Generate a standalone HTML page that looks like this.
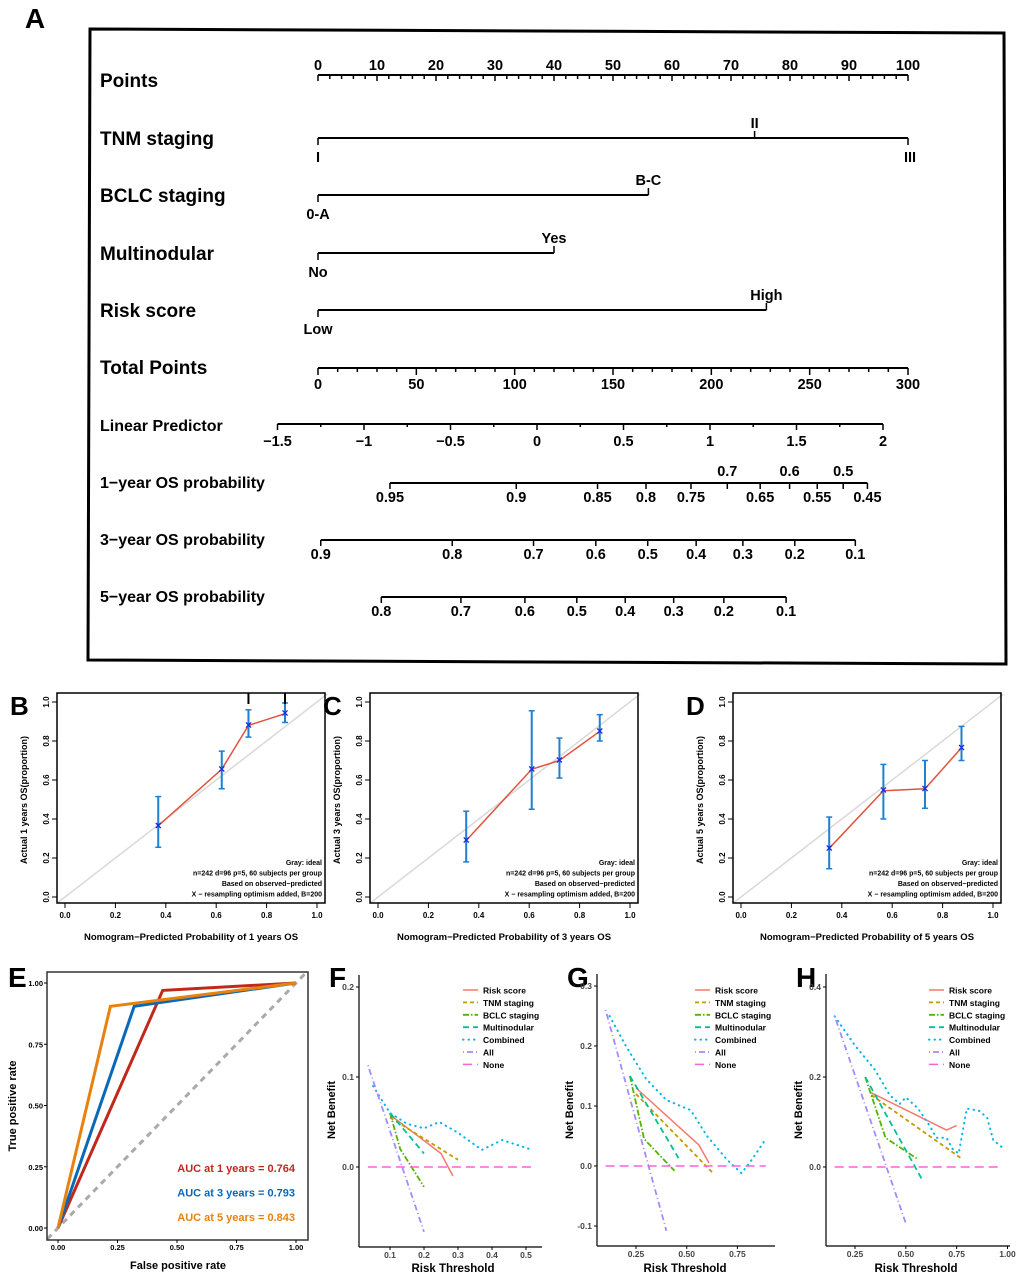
<!DOCTYPE html>
<html><head><meta charset="utf-8"><title>Nomogram figure</title>
<style>
html,body{margin:0;padding:0;background:#fff;}
svg{display:block;font-family:"Liberation Sans",Arial,sans-serif;font-weight:bold;}
</style></head>
<body>
<svg id="fig" width="1020" height="1276" viewBox="0 0 1020 1276" xmlns="http://www.w3.org/2000/svg"></svg>
<script>
// ---------- data ----------
const pointsTicks=[0,10,20,30,40,50,60,70,80,90,100];
const totalTicks=[0,50,100,150,200,250,300];
const lpTicks=[-1.5,-1,-0.5,0,0.5,1,1.5,2];
const lpLabels=["\u22121.5","\u22121","\u22120.5","0","0.5","1","1.5","2"];
const os1Labels=["0.95","0.9","0.85","0.8","0.75","0.7","0.65","0.6","0.55","0.5","0.45"];
const os1LP=[-0.85,-0.12,0.35,0.63,0.89,1.10,1.29,1.46,1.62,1.77,1.91];
const os3Labels=["0.9","0.8","0.7","0.6","0.5","0.4","0.3","0.2","0.1"];
const os3LP=[-1.25,-0.49,-0.02,0.34,0.64,0.92,1.19,1.49,1.84];
const os5Labels=["0.8","0.7","0.6","0.5","0.4","0.3","0.2","0.1"];
const os5LP=[-0.90,-0.44,-0.07,0.23,0.51,0.79,1.08,1.44];
const varNames=["TNM staging","BCLC staging","Multinodular","Risk score"];
const varLowLabels=["I","0-A","No","Low"];
const varHighLabels=["II","B-C","Yes","High"];
const varHighPoints=[74,56,40,76];
const varMaxPoints=[100,56,40,76];

const calB_pred=[0.37,0.622,0.728,0.873], calB_obs=[0.365,0.655,0.88,0.94], calB_lo=[0.255,0.555,0.82,0.895], calB_hi=[0.515,0.748,0.96,0.995];
const calC_pred=[0.35,0.61,0.72,0.88], calC_obs=[0.29,0.655,0.70,0.85], calC_lo=[0.18,0.45,0.61,0.80], calC_hi=[0.44,0.955,0.815,0.935];
const calD_pred=[0.35,0.565,0.73,0.875], calD_obs=[0.25,0.545,0.555,0.765], calD_lo=[0.145,0.40,0.455,0.70], calD_hi=[0.41,0.68,0.70,0.875];
const calTicks=[0,0.2,0.4,0.6,0.8,1.0];
const calTickLabels=["0.0","0.2","0.4","0.6","0.8","1.0"];

const roc1_fpr=[0,0.44,1], roc1_tpr=[0,0.97,1];
const roc3_fpr=[0,0.32,1], roc3_tpr=[0,0.905,1];
const roc5_fpr=[0,0.22,1], roc5_tpr=[0,0.905,1];
const rocTicks=[0,0.25,0.5,0.75,1];
const rocTickLabels=["0.00","0.25","0.50","0.75","1.00"];
const aucLabels=["AUC at 1 years = 0.764","AUC at 3 years = 0.793","AUC at 5 years = 0.843"];

const fRisk_x=[0.1,0.25,0.285], fRisk_y=[0.058,0.015,-0.01];
const fTnm_x=[0.1,0.3], fTnm_y=[0.055,0.008];
const fBclc_x=[0.1,0.13,0.2], fBclc_y=[0.06,0.02,-0.022];
const fMulti_x=[0.1,0.2], fMulti_y=[0.06,0.015];
const fComb_x=[0.05,0.1,0.15,0.2,0.245,0.3,0.37,0.43,0.51], fComb_y=[0.09,0.06,0.048,0.043,0.05,0.038,0.019,0.03,0.02];
const fAll_x=[0.035,0.2], fAll_y=[0.113,-0.072];
const fNone_x=[0.035,0.52], fNone_y=[0,0];
const fXTicks=[0.1,0.2,0.3,0.4,0.5], fXLabels=["0.1","0.2","0.3","0.4","0.5"];
const fYTicks=[0,0.1,0.2], fYLabels=["0.0","0.1","0.2"];
const gRisk_x=[0.25,0.56,0.61], gRisk_y=[0.13,0.035,0.005];
const gTnm_x=[0.25,0.63], gTnm_y=[0.12,-0.012];
const gBclc_x=[0.22,0.29,0.44], gBclc_y=[0.15,0.045,-0.008];
const gMulti_x=[0.22,0.46], gMulti_y=[0.15,0.013];
const gComb_x=[0.12,0.2,0.3,0.4,0.47,0.52,0.6,0.7,0.77,0.82,0.89], gComb_y=[0.25,0.2,0.145,0.11,0.1,0.093,0.05,0.01,-0.012,0.01,0.045];
const gAll_x=[0.1,0.4], gAll_y=[0.26,-0.108];
const gNone_x=[0.1,0.89], gNone_y=[0,0];
const gXTicks=[0.25,0.5,0.75], gXLabels=["0.25","0.50","0.75"];
const gYTicks=[-0.1,0,0.1,0.2,0.3], gYLabels=["-0.1","0.0","0.1","0.2","0.3"];
const hRisk_x=[0.33,0.7,0.75], hRisk_y=[0.165,0.082,0.092];
const hTnm_x=[0.33,0.77], hTnm_y=[0.16,0.02];
const hBclc_x=[0.3,0.4,0.56], hBclc_y=[0.2,0.065,0.017];
const hMulti_x=[0.3,0.58], hMulti_y=[0.2,-0.028];
const hComb_x=[0.15,0.25,0.35,0.42,0.47,0.5,0.56,0.62,0.65,0.7,0.73,0.76,0.8,0.86,0.9,0.93,0.97], hComb_y=[0.335,0.27,0.215,0.16,0.14,0.155,0.13,0.09,0.065,0.065,0.04,0.03,0.13,0.125,0.11,0.06,0.045];
const hAll_x=[0.15,0.5], hAll_y=[0.335,-0.125];
const hNone_x=[0.15,0.97], hNone_y=[0,0];
const hXTicks=[0.25,0.5,0.75,1.0], hXLabels=["0.25","0.50","0.75","1.00"];
const hYTicks=[0,0.2,0.4], hYLabels=["0.0","0.2","0.4"];
const legendNames=["Risk score","TNM staging","BCLC staging","Multinodular","Combined","All","None"];

// ---------- helpers ----------
const NS="http://www.w3.org/2000/svg";
const fig=document.getElementById('fig');
function mk(tag,attrs,name,parent){
  const el=document.createElementNS(NS,tag);
  for(const k in attrs) el.setAttribute(k,attrs[k]);
  
  
  (parent||fig).appendChild(el);
  return el;
}
function line(x1,y1,x2,y2,name,st,p){return mk('line',Object.assign({x1:x1,y1:y1,x2:x2,y2:y2,stroke:'#000','stroke-width':2},st||{}),name,p);}
function text(x,y,s,name,st,p){const t=mk('text',Object.assign({x:x,y:y,'font-size':14,fill:'#000'},st||{}),name,p);t.textContent=s;return t;}
function poly(xs,ys,sx,sy,name,st,p){
  const pts=xs.map((v,i)=>sx(v).toFixed(1)+','+sy(ys[i]).toFixed(1)).join(' ');
  return mk('polyline',Object.assign({points:pts,fill:'none'},st||{}),name,p);
}

// ---------- Panel A ----------
text(35,28,"A","panel-label-a",{'font-size':28,'text-anchor':'middle'});
mk('polygon',{points:"90,29 1004,33 1006,664 88,660",fill:'none',stroke:'#000','stroke-width':3},"nomogram-frame");
const px=v=>318+v*5.9;
const tx=v=>318+v*590/300;
const lx=v=>537+v*173;
const rowLabel={'font-size':19,'text-anchor':'start'};
const rowLabel2={'font-size':16,'text-anchor':'start'};
const tickLbl={'font-size':14.5,'text-anchor':'middle'};
text(100,87,"Points","points-label",rowLabel);
line(px(0),75,px(100),75,"points-axis");
for(let v=0;v<=100;v+=2){line(px(v),75,px(v),v%10===0?81:79,"points-tick",{'stroke-width':1.5});}
pointsTicks.forEach(v=>text(px(v),70,String(v),"points-tick-label",tickLbl));
const rowsY=[138,195,253,310];
varNames.forEach((n,i)=>{
  const y=rowsY[i];
  text(100,y+7,n,"variable-label",rowLabel);
  line(px(0),y,px(varMaxPoints[i]),y,"variable-axis");
  line(px(0),y,px(0),y+7,"variable-tick",{'stroke-width':1.5});
  line(px(varHighPoints[i]),y,px(varHighPoints[i]),y-7,"variable-tick",{'stroke-width':1.5});
  text(px(0),y+24,varLowLabels[i],"variable-level-low",tickLbl);
  text(px(varHighPoints[i]),y-10,varHighLabels[i],"variable-level-high",tickLbl);
});
line(px(100),138,px(100),145,"tnm-tick-iii",{'stroke-width':1.5});
text(px(100)+2,162,"III","tnm-level-iii",tickLbl);
text(100,374,"Total Points","total-points-label",rowLabel);
line(tx(0),368,tx(300),368,"total-points-axis");
for(let v=0;v<=300;v+=10){line(tx(v),368,tx(v),v%50===0?375:372,"total-points-tick",{'stroke-width':1.5});}
totalTicks.forEach(v=>text(tx(v),389,String(v),"total-points-tick-label",tickLbl));
text(100,431,"Linear Predictor","linear-predictor-label",rowLabel2);
line(lx(-1.5),424,lx(2),424,"linear-predictor-axis");
for(let v=-1.5;v<=2.001;v+=0.25){line(lx(v),424,lx(v),Math.abs(v*2-Math.round(v*2))<0.01?430:427,"lp-tick",{'stroke-width':1.5});}
lpTicks.forEach((v,i)=>text(lx(v),446,lpLabels[i],"lp-tick-label",tickLbl));
function survAxis(lbl,y,labels,lps,above,nm){
  text(100,y+5,lbl,nm+"-label",rowLabel2);
  line(lx(lps[0]),y,lx(lps[lps.length-1]),y,nm+"-axis");
  lps.forEach((v,i)=>{
    line(lx(v),y,lx(v),y+6,nm+"-tick",{'stroke-width':1.5});
    const up=above.indexOf(labels[i])>=0;
    text(lx(v),up?y-7:y+19,labels[i],nm+"-tick-label",tickLbl);
  });
}
survAxis("1\u2212year OS probability",483,os1Labels,os1LP,["0.7","0.6","0.5"],"os1");
survAxis("3\u2212year OS probability",540,os3Labels,os3LP,[],"os3");
survAxis("5\u2212year OS probability",597,os5Labels,os5LP,[],"os5");

// ---------- Calibration ----------
function calib(letter,lx0,pred,obs,lo,hi,yr){
  const g=mk('g',{},"calibration-panel-"+letter.toLowerCase());
  const sx=v=>lx0+v*252, sy=v=>897-v*195;
  text(lx0-55,715,letter,"panel-label",{'font-size':26,'text-anchor':'start'},g);
  line(sx(-0.03),sy(-0.03),sx(1.04),sy(1.04),"ideal-line",{stroke:'#d9d9d9','stroke-width':1.5},g);
  mk('rect',{x:lx0-8,y:693,width:268,height:210,fill:'none',stroke:'#000','stroke-width':1.5},"plot-box",g);
  calTicks.forEach((v,i)=>{
    line(sx(v),903,sx(v),908,"x-tick",{'stroke-width':1},g);
    text(sx(v),918,calTickLabels[i],"x-tick-label",{'font-size':8,'text-anchor':'middle'},g);
    line(lx0-8,sy(v),lx0-13,sy(v),"y-tick",{'stroke-width':1},g);
    text(0,0,calTickLabels[i],"y-tick-label",{'font-size':8,'text-anchor':'middle',transform:`translate(${lx0-16},${sy(v)}) rotate(-90)`},g);
  });
  poly(pred,obs,sx,sy,"calibration-line",{stroke:'#e0533c','stroke-width':1.5},g);
  pred.forEach((v,i)=>{
    line(sx(v),sy(lo[i]),sx(v),sy(hi[i]),"error-bar",{stroke:'#1f7fd0','stroke-width':2},g);
    line(sx(v)-3,sy(lo[i]),sx(v)+3,sy(lo[i]),"error-cap",{stroke:'#1f7fd0','stroke-width':1.5},g);
    line(sx(v)-3,sy(hi[i]),sx(v)+3,sy(hi[i]),"error-cap",{stroke:'#1f7fd0','stroke-width':1.5},g);
    text(sx(v),sy(obs[i])+3.5,"\u00d7","point-marker",{'font-size':12,fill:'#1a2be0','text-anchor':'middle'},g);
  });
  const rx=lx0+257;
  ["Gray: ideal","n=242 d=96 p=5, 60 subjects per group","Based on observed\u2212predicted","X \u2212 resampling optimism added, B=200"].forEach((s,i)=>
    text(rx,865+i*10.5,s,"annotation",{'font-size':7,'text-anchor':'end'},g));
  text(0,0,`Actual ${yr} years OS(proportion)`,"y-axis-title",{'font-size':9,'text-anchor':'middle',transform:`translate(${lx0-38},800) rotate(-90)`},g);
  text(lx0+126,940,`Nomogram\u2212Predicted Probability of ${yr} years OS`,"x-axis-title",{'font-size':9.5,'text-anchor':'middle'},g);
}
calib("B",65,calB_pred,calB_obs,calB_lo,calB_hi,1);
calib("C",378,calC_pred,calC_obs,calC_lo,calC_hi,3);
calib("D",741,calD_pred,calD_obs,calD_lo,calD_hi,5);
// rug marks on B
line(65+0.728*252,693,65+0.728*252,704,"rug-mark",{'stroke-width':2});
line(65+0.873*252,693,65+0.873*252,704,"rug-mark",{'stroke-width':2});

// ---------- ROC ----------
(function(){
  const g=mk('g',{},"roc-panel-e");
  const sx=v=>58+v*238, sy=v=>1228-v*245;
  text(8,987,"E","panel-label",{'font-size':28},g);
  line(sx(-0.045),sy(-0.045),sx(1.04),sy(1.04),"diagonal-reference",{stroke:'#aaa','stroke-width':3,'stroke-dasharray':'6,5'},g);
  mk('rect',{x:47,y:972,width:261,height:268,fill:'none',stroke:'#333','stroke-width':1.5},"plot-box",g);
  rocTicks.forEach((v,i)=>{
    line(sx(v),1240,sx(v),1243,"x-tick",{'stroke-width':1},g);
    text(sx(v),1250,rocTickLabels[i],"x-tick-label",{'font-size':7.5,'text-anchor':'middle'},g);
    line(47,sy(v),44,sy(v),"y-tick",{'stroke-width':1},g);
    text(43,sy(v)+3,rocTickLabels[i],"y-tick-label",{'font-size':7.5,'text-anchor':'end'},g);
  });
  poly(roc1_fpr,roc1_tpr,sx,sy,"roc-1-year",{stroke:'#c0281c','stroke-width':3},g);
  poly(roc3_fpr,roc3_tpr,sx,sy,"roc-3-year",{stroke:'#0a68b8','stroke-width':3},g);
  poly(roc5_fpr,roc5_tpr,sx,sy,"roc-5-year",{stroke:'#e8820e','stroke-width':3},g);
  const cols=['#c0281c','#0a68b8','#e8820e'];
  aucLabels.forEach((s,i)=>text(295,1172+i*24.5,s,"auc-label",{'font-size':11,'text-anchor':'end',fill:cols[i]},g));
  text(0,0,"True positive rate","y-axis-title",{'font-size':11,'text-anchor':'middle',transform:'translate(16,1106) rotate(-90)'},g);
  text(178,1269,"False positive rate","x-axis-title",{'font-size':11,'text-anchor':'middle'},g);
})();

// ---------- DCA ----------
const dcaStyles=[
  {stroke:'#F8766D','stroke-width':1.5},
  {stroke:'#C49A00','stroke-width':1.8,'stroke-dasharray':'4,3'},
  {stroke:'#53B400','stroke-width':1.8,'stroke-dasharray':'6,2,1.5,2'},
  {stroke:'#00C094','stroke-width':1.8,'stroke-dasharray':'6,4'},
  {stroke:'#00B6EB','stroke-width':2,'stroke-dasharray':'0.5,5','stroke-linecap':'round'},
  {stroke:'#A58AFF','stroke-width':1.8,'stroke-dasharray':'1,3,6,3'},
  {stroke:'#FB61D7','stroke-width':1.5,'stroke-dasharray':'9,5'}
];
function dca(letter,cfg){
  const g=mk('g',{},"dca-panel-"+letter.toLowerCase());
  const {sx,sy,axL,axB,axR,axT,series,xt,xl,yt,yl,legX,titleX}=cfg;
  text(axL-30,987,letter,"panel-label",{'font-size':28},g);
  line(axL,axT,axL,axB,"y-axis",{'stroke-width':1.2},g);
  line(axL,axB,axR,axB,"x-axis",{'stroke-width':1.2},g);
  xt.forEach((v,i)=>{line(sx(v),axB,sx(v),axB+3,"x-tick",{'stroke-width':1},g);
    text(sx(v),axB+11,xl[i],"x-tick-label",{'font-size':8.5,'text-anchor':'middle',fill:'#444'},g);});
  yt.forEach((v,i)=>{line(axL,sy(v),axL-3,sy(v),"y-tick",{'stroke-width':1},g);
    text(axL-5,sy(v)+3,yl[i],"y-tick-label",{'font-size':8.5,'text-anchor':'end',fill:'#444'},g);});
  series.forEach((s,i)=>poly(s[0],s[1],sx,sy,"dca-"+legendNames[i].toLowerCase().replace(' ','-'),dcaStyles[i],g));
  legendNames.forEach((n,i)=>{
    const y=990+i*12.4;
    line(legX,y,legX+15,y,"legend-key",dcaStyles[i],g);
    text(legX+20,y+3.5,n,"legend-entry",{'font-size':8.5},g);
  });
  text(0,0,"Net Benefit","y-axis-title",{'font-size':11,'text-anchor':'middle',transform:`translate(${axL-24},1110) rotate(-90)`},g);
  text(titleX,1272,"Risk Threshold","x-axis-title",{'font-size':11.5,'text-anchor':'middle'},g);
}
dca("F",{sx:v=>390+(v-0.1)*340,sy:v=>1167-v*900,axL:359,axB:1247,axR:542,axT:975,
  series:[[fRisk_x,fRisk_y],[fTnm_x,fTnm_y],[fBclc_x,fBclc_y],[fMulti_x,fMulti_y],[fComb_x,fComb_y],[fAll_x,fAll_y],[fNone_x,fNone_y]],
  xt:fXTicks,xl:fXLabels,yt:fYTicks,yl:fYLabels,legX:463,titleX:453});
dca("G",{sx:v=>636+(v-0.25)*202.8,sy:v=>1166-v*600,axL:597,axB:1246,axR:775,axT:974,
  series:[[gRisk_x,gRisk_y],[gTnm_x,gTnm_y],[gBclc_x,gBclc_y],[gMulti_x,gMulti_y],[gComb_x,gComb_y],[gAll_x,gAll_y],[gNone_x,gNone_y]],
  xt:gXTicks,xl:gXLabels,yt:gYTicks,yl:gYLabels,legX:695,titleX:685});
dca("H",{sx:v=>855+(v-0.25)*203.3,sy:v=>1167-v*450,axL:826,axB:1246,axR:1010,axT:974,
  series:[[hRisk_x,hRisk_y],[hTnm_x,hTnm_y],[hBclc_x,hBclc_y],[hMulti_x,hMulti_y],[hComb_x,hComb_y],[hAll_x,hAll_y],[hNone_x,hNone_y]],
  xt:hXTicks,xl:hXLabels,yt:hYTicks,yl:hYLabels,legX:929,titleX:916});
</script>
</body></html>
